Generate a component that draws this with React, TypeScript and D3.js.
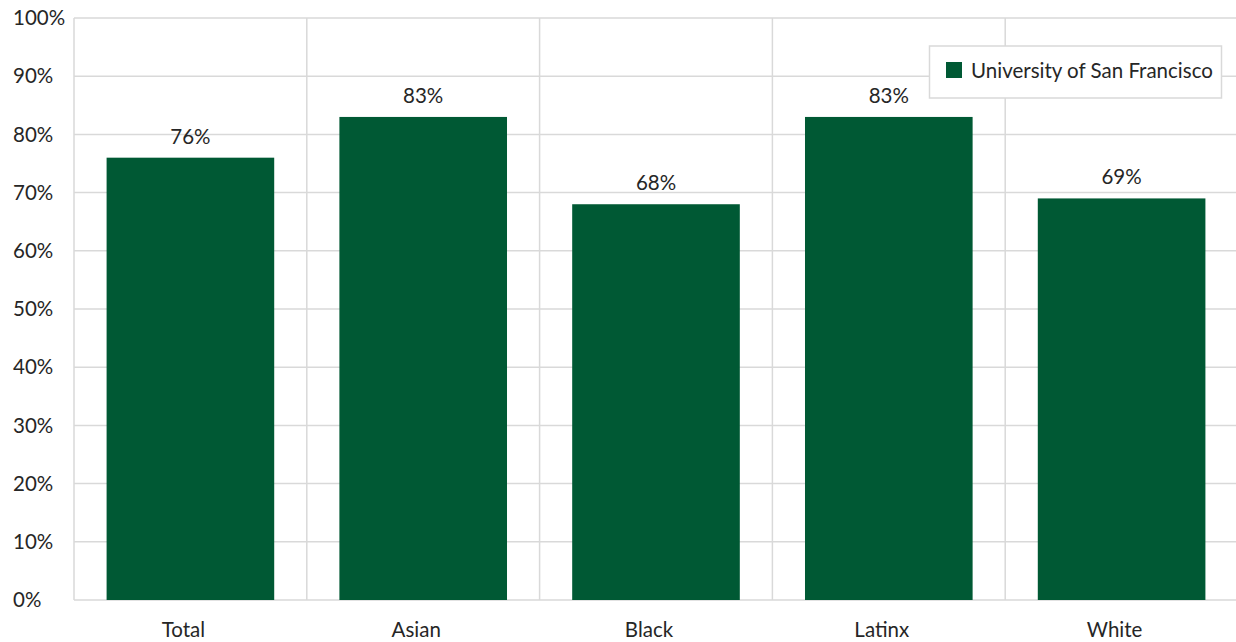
import React from "react";
import * as d3 from "d3";

const categories = ["Total", "Asian", "Black", "Latinx", "White"];
const values = [76, 83, 68, 83, 69];
const yTicks = [0, 10, 20, 30, 40, 50, 60, 70, 80, 90, 100];
const seriesName = "University of San Francisco";

const W = 1236;
const H = 642;
const margin = { left: 74, right: -2, top: 18, bottom: 42 };
const BAR = "#005934";
const GRID = "#d9d9d9";
const TEXT = "#262626";
const FONT = "Lato, 'Open Sans', sans-serif";

export default function App() {
  const x = d3
    .scaleBand<string>()
    .domain(categories)
    .range([margin.left, W - margin.right])
    .paddingInner(0)
    .paddingOuter(0);
  const y = d3.scaleLinear().domain([0, 100]).range([H - margin.bottom, margin.top]);
  const bw = x.bandwidth();
  const barW = bw * 0.72;

  return (
    <svg
      width={W}
      height={H}
      style={{ position: "absolute", left: 0, top: 0, background: "#fff" }}
      fontFamily={FONT}
    >
      {/* horizontal grid + y labels */}
      {yTicks.map((t) => (
        <g key={t}>
          <line x1={margin.left} x2={W} y1={y(t)} y2={y(t)} stroke={GRID} strokeWidth={1.5} />
          <text x={13} y={y(t)} dy="0.35em" fontSize={20.5} fill={TEXT}>
            {t}%
          </text>
        </g>
      ))}
      {/* vertical category separators */}
      {categories.map((c) => (
        <line
          key={c}
          x1={x(c)!}
          x2={x(c)!}
          y1={y(100)}
          y2={y(0)}
          stroke={GRID}
          strokeWidth={1.5}
        />
      ))}
      {/* bars with value labels and category labels */}
      {categories.map((c, i) => {
        const cx = x(c)! + bw / 2;
        return (
          <g key={c}>
            <rect x={cx - barW / 2} y={y(values[i])} width={barW} height={y(0) - y(values[i])} fill={BAR} />
            <text x={cx} y={y(values[i]) - 14} textAnchor="middle" fontSize={20.5} fill={TEXT}>
              {values[i]}%
            </text>
            <text x={cx - 7} y={y(0) + 37} textAnchor="middle" fontSize={20.5} fill={TEXT}>
              {c}
            </text>
          </g>
        );
      })}
      {/* legend */}
      <g>
        <rect x={929.5} y={46} width={292} height={52} fill="#fff" stroke={GRID} strokeWidth={1.5} />
        <rect x={946} y={62} width={16} height={16} fill={BAR} />
        <text x={971} y={71} dy="0.35em" fontSize={20.5} fill={TEXT}>
          {seriesName}
        </text>
      </g>
    </svg>
  );
}
